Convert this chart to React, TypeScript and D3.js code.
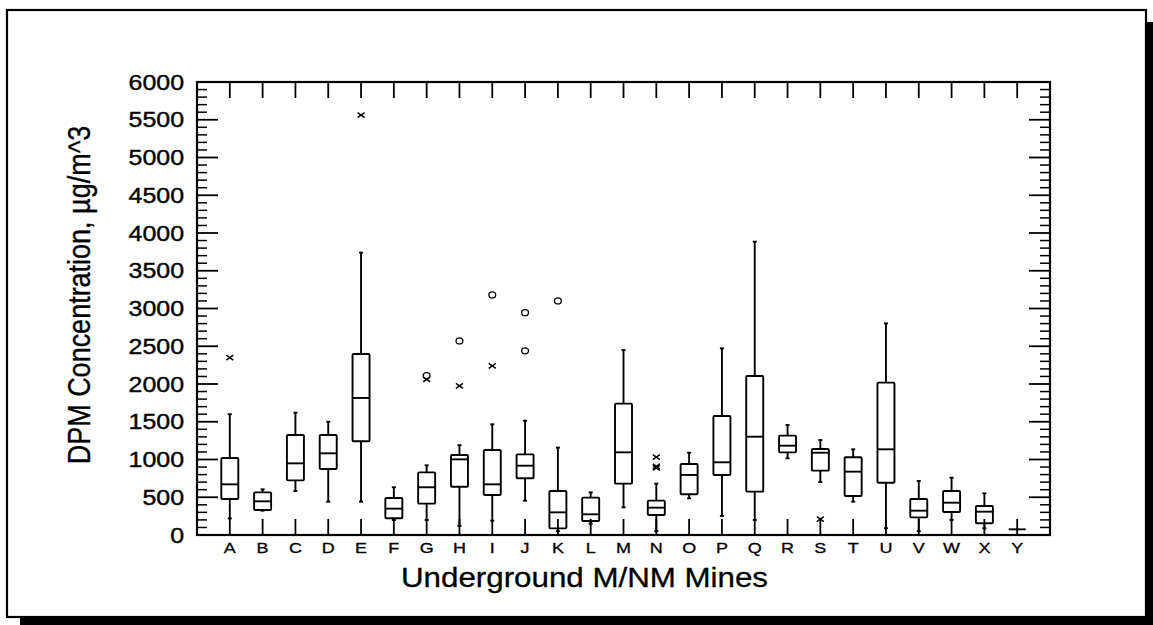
import React from "react";
import * as d3 from "d3";

const categories = ["A","B","C","D","E","F","G","H","I","J","K","L","M","N","O","P","Q","R","S","T","U","V","W","X","Y"];
const whiskerHigh = [1600, 605, 1620, 1500, 3740, 632, 923, 1190, 1466, 1514, 1157, 565, 2450, 680, 1090, 2472, 3885, 1457, 1258, 1135, 2803, 715, 759, 552, 75];
const q3Values = [1020, 565, 1325, 1325, 2397, 490, 830, 1060, 1126, 1068, 583, 495, 1740, 455, 940, 1576, 2106, 1316, 1139, 1029, 2018, 477, 583, 384, 75];
const medianValues = [671, 446, 949, 1082, 1815, 349, 632, 1002, 671, 918, 300, 274, 1095, 362, 795, 963, 1302, 1183, 1090, 839, 1135, 322, 428, 309, 75];
const q1Values = [477, 331, 724, 874, 1241, 221, 415, 640, 530, 751, 88, 185, 680, 265, 539, 795, 574, 1095, 852, 517, 693, 234, 305, 155, 75];
const whiskerLow = [220, 322, 583, 441, 441, 199, 199, 120, 190, 454, 50, 150, 366, 50, 486, 252, 199, 1016, 702, 441, 90, 50, 199, 88, 75];

const outlierCats = ["A", "E", "G", "G", "H", "H", "I", "I", "J", "J", "K", "N", "N", "N", "S"];
const outlierValues = [2350, 5560, 2060, 2110, 2570, 1975, 3180, 2240, 2945, 2440, 3100, 1030, 910, 890, 210];
const outlierKinds = ["x", "x", "x", "o", "o", "x", "o", "x", "o", "o", "o", "x", "x", "x", "x"];

const yTicks = [0, 500, 1000, 1500, 2000, 2500, 3000, 3500, 4000, 4500, 5000, 5500, 6000];

const W = 1153;
const H = 625;
const FONT = "'Liberation Sans', Arial, Helvetica, sans-serif";
const SX = 1.16;

export default function App() {
  const left = 197, right = 1050, top = 82, bottom = 535;
  const x = d3.scaleLinear().domain([0, categories.length + 1]).range([left, right]);
  const y = d3.scaleLinear().domain([0, 6000]).range([bottom, top]);
  const catX = (c: string) => x(categories.indexOf(c) + 1);
  const minorTicks = d3.range(0, 6001, 100).filter((v) => v % 500 !== 0);
  const boxW = 17;
  const sw = 1.9;

  return (
    <div style={{ position: "fixed", left: 0, top: 0, width: W, height: H, background: "#fff" }}>
      <svg width={W} height={H} viewBox={`0 0 ${W} ${H}`} style={{ display: "block" }}>
        <rect x={0} y={0} width={W} height={H} fill="#fff" />
        {/* frame with shadow */}
        <rect x={20} y={617} width={1133} height={8} fill="#000" />
        <rect x={1147} y={22} width={6} height={603} fill="#000" />
        <rect x={7} y={10} width={1139} height={607} fill="#fff" stroke="#000" strokeWidth={2.2} />

        {/* axes frame */}
        <rect x={left} y={top} width={right - left} height={bottom - top} fill="none" stroke="#000" strokeWidth={2.2} />

        {/* y ticks left and right */}
        {yTicks.map((v) => (
          <g key={"yt" + v}>
            <line x1={left} x2={left + 21} y1={y(v)} y2={y(v)} stroke="#000" strokeWidth={1.8} />
            <line x1={right} x2={right - 21} y1={y(v)} y2={y(v)} stroke="#000" strokeWidth={1.8} />
            <text
              transform={`translate(184, ${y(v) + 7.7}) scale(${SX},1)`}
              textAnchor="end"
              fontFamily={FONT}
              fontSize={21.5}
              fill="#000"
              stroke="#000"
              strokeWidth={0.4}
            >
              {v}
            </text>
          </g>
        ))}
        {minorTicks.map((v) => (
          <g key={"ym" + v}>
            <line x1={left} x2={left + 10} y1={y(v)} y2={y(v)} stroke="#000" strokeWidth={1.5} />
            <line x1={right} x2={right - 10} y1={y(v)} y2={y(v)} stroke="#000" strokeWidth={1.5} />
          </g>
        ))}

        {/* x ticks top and bottom, labels */}
        {categories.map((c) => (
          <g key={"xt" + c}>
            <line x1={catX(c)} x2={catX(c)} y1={top} y2={top + 16} stroke="#000" strokeWidth={1.8} />
            <line x1={catX(c)} x2={catX(c)} y1={bottom} y2={bottom - 16} stroke="#000" strokeWidth={1.8} />
            <text
              transform={`translate(${catX(c)}, 553) scale(${SX},1)`}
              textAnchor="middle"
              fontFamily={FONT}
              fontSize={15.5}
              fill="#000"
              stroke="#000"
              strokeWidth={0.3}
            >
              {c}
            </text>
          </g>
        ))}

        {/* boxes */}
        {categories.map((c, i) => {
          const cx = catX(c);
          return (
            <g key={"box" + c} stroke="#000" strokeWidth={sw} fill="none">
              {whiskerHigh[i] > q3Values[i] && (
                <>
                  <line x1={cx} x2={cx} y1={y(q3Values[i])} y2={y(whiskerHigh[i])} />
                  <line x1={cx - 2} x2={cx + 2} y1={y(whiskerHigh[i])} y2={y(whiskerHigh[i])} />
                </>
              )}
              {whiskerLow[i] < q1Values[i] && (
                <>
                  <line x1={cx} x2={cx} y1={y(q1Values[i])} y2={y(whiskerLow[i])} />
                  <line x1={cx - 2} x2={cx + 2} y1={y(whiskerLow[i])} y2={y(whiskerLow[i])} />
                </>
              )}
              {q3Values[i] > q1Values[i] && (
                <rect x={cx - boxW / 2} y={y(q3Values[i])} width={boxW} height={y(q1Values[i]) - y(q3Values[i])} rx={1} />
              )}
              <line x1={cx - boxW / 2} x2={cx + boxW / 2} y1={y(medianValues[i])} y2={y(medianValues[i])} />
            </g>
          );
        })}

        {/* outliers */}
        {outlierValues.map((v, i) => {
          const cx = catX(outlierCats[i]);
          const cy = y(v);
          if (outlierKinds[i] === "o") {
            return <ellipse key={"o" + i} cx={cx} cy={cy} rx={3.4} ry={3} fill="none" stroke="#000" strokeWidth={1.3} />;
          }
          return (
            <g key={"x" + i} stroke="#000" strokeWidth={1.5}>
              <line x1={cx - 3.5} x2={cx + 3.5} y1={cy - 2.5} y2={cy + 2.5} />
              <line x1={cx - 3.5} x2={cx + 3.5} y1={cy + 2.5} y2={cy - 2.5} />
            </g>
          );
        })}

        {/* axis titles */}
        <text
          transform={`translate(584.5, 587) scale(${SX},1)`}
          textAnchor="middle"
          fontFamily={FONT}
          fontSize={27}
          fill="#000"
          stroke="#000"
          strokeWidth={0.3}
        >
          Underground M/NM Mines
        </text>
        <text
          transform={`translate(90, 295) rotate(-90) scale(1,${SX})`}
          textAnchor="middle"
          fontFamily={FONT}
          fontSize={27}
          fill="#000"
          stroke="#000"
          strokeWidth={0.3}
        >
          DPM Concentration, µg/m^3
        </text>
      </svg>
    </div>
  );
}
